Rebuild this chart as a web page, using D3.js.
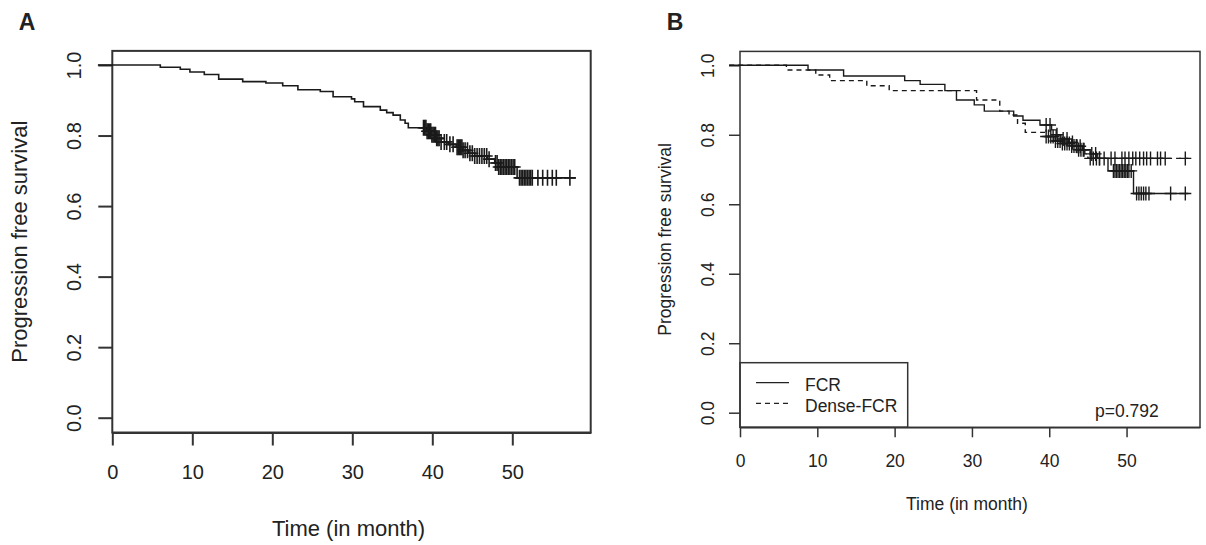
<!DOCTYPE html>
<html>
<head>
<meta charset="utf-8">
<script src="https://cdn.jsdelivr.net/npm/d3@7"></script>
<style>
    body { margin: 0; background: #fff; }
    svg { display: block; font-family: "Liberation Sans", Arial, sans-serif; }
    .box { fill: none; stroke: #333; }
    .km { fill: none; stroke: #1a1a1a; }
    .cens { stroke: #1a1a1a; }
    text { fill: #222; }
</style>
</head>
<body>
<svg id="chart" width="1206" height="545"></svg>
<script>
const monthTicks = [0, 10, 20, 30, 40, 50];
const survTicks = [0, 0.2, 0.4, 0.6, 0.8, 1.0];

// panel A - all patients (step times and survival after each step)
const allTimes = [-1.8, 6.0, 8.5, 9.7, 11.5, 13.3, 16.3, 19.2, 21.3, 23.2, 26.0, 27.6, 29.9, 30.3, 31.4,
    33.5, 34.3, 35.1, 36.0, 36.6, 37.0, 39.3, 39.9, 40.5, 41.1, 42.0, 43.0, 43.8, 44.5, 45.3, 46.9, 47.8, 48.3, 50.6];
const allSurv = [1.0, 0.9935, 0.988, 0.980, 0.973, 0.960, 0.953, 0.949, 0.941, 0.930, 0.925, 0.910, 0.904, 0.896, 0.882,
    0.872, 0.865, 0.858, 0.844, 0.835, 0.822, 0.812, 0.802, 0.792, 0.782, 0.775, 0.767, 0.758, 0.750, 0.742, 0.733, 0.722, 0.711, 0.680];
const allCensor = [38.9, 39.05, 39.2, 39.35, 39.5, 39.65, 39.8, 39.95, 40.1, 40.25, 40.4, 40.55, 40.7, 40.85,
    41.1, 41.5, 41.8, 42.2, 42.6,
    43.1, 43.25, 43.4, 43.55, 43.7, 43.85, 44.1, 44.4, 44.7,
    45.0, 45.3, 45.6, 45.9, 46.2, 46.5, 46.8, 47.1,
    47.9, 48.1, 48.3, 48.5, 48.7, 48.9, 49.1, 49.3, 49.5, 49.7, 49.9, 50.1, 50.3,
    50.9, 51.1, 51.3, 51.5, 51.7, 51.9, 52.1, 52.3, 52.5, 53.2, 53.8, 54.4, 55.0, 55.5, 57.2];
const allEnd = 57.9;

// panel B - FCR (solid) vs Dense-FCR (dashed)
const fcrTimes = [-1.4, 8.8, 13.4, 21.3, 23.3, 26.5, 28.0, 30.3, 31.6, 35.4, 36.6, 38.8, 40.3, 40.9, 41.5,
    42.5, 43.5, 44.3, 45.3, 46.2, 47.6, 50.9];
const fcrSurv = [1.0, 0.9865, 0.969, 0.956, 0.945, 0.927, 0.900, 0.886, 0.868, 0.854, 0.842, 0.828, 0.814, 0.800, 0.788,
    0.778, 0.767, 0.757, 0.745, 0.732, 0.696, 0.631];
const fcrCensor = [39.6, 40.1, 41.0, 41.8, 42.3, 43.0, 43.6, 44.0, 44.5, 45.5, 46.0, 46.5,
    48.3, 48.5, 48.7, 48.9, 49.1, 49.3, 49.5, 49.7, 49.9, 50.1, 50.3, 50.6,
    51.3, 51.6, 51.9, 52.2, 52.5, 52.9, 55.7, 57.6];
const fcrEnd = 58.0;

const denseTimes = [-1.4, 6.0, 9.8, 11.6, 16.4, 19.3, 30.6, 33.6, 34.8, 35.9, 36.9, 39.5, 40.6, 41.5, 42.8,
    43.8, 44.6, 45.0];
const denseSurv = [1.0, 0.9865, 0.972, 0.956, 0.941, 0.927, 0.900, 0.868, 0.857, 0.833, 0.807, 0.795, 0.782, 0.775, 0.768,
    0.757, 0.745, 0.732];
const denseCensor = [39.6, 39.9, 40.2, 40.5, 40.8, 41.1, 41.4, 41.7, 42.0, 42.3, 42.6, 42.9, 43.2, 43.5, 43.8, 44.1, 44.4,
    45.3, 45.7, 46.1, 46.5, 47.1, 48.0, 48.5, 49.4, 49.8, 50.3, 50.8, 51.2, 51.7, 52.2, 52.6, 53.1, 54.0, 54.4, 55.0, 57.6];
const denseEnd = 58.0;

const legendLabels = ["FCR", "Dense-FCR"];

const svg = d3.select("#chart");

// step function value at time t
function survAt(times, surv, t) {
    const i = d3.bisectRight(times, t) - 1;
    return surv[Math.max(0, i)];
}

function drawPanel(opt) {
    const x = d3.scaleLinear().domain([0, opt.xMax]).range(opt.xRange);
    const y = d3.scaleLinear().domain([0, 1]).range(opt.yRange);
    const g = svg.append("g");

    const top = y(1.04), bottom = y(-0.042);
    const left = opt.xRange[0], right = x(opt.xMax);

    g.append("rect")
        .attr("class", "box")
        .attr("x", left).attr("y", top)
        .attr("width", right - left).attr("height", bottom - top)
        .attr("stroke-width", opt.boxWidth);

    // y axis
    const yAxis = g.append("g")
        .attr("transform", `translate(${left},0)`)
        .call(d3.axisLeft(y).tickValues(survTicks).tickFormat(d3.format(".1f"))
            .tickSize(opt.tickLen).tickSizeOuter(0));
    yAxis.select(".domain").remove();
    yAxis.selectAll(".tick line").attr("stroke", "#333").attr("stroke-width", opt.boxWidth);
    yAxis.selectAll(".tick text")
        .attr("x", null).attr("dy", "0.36em")
        .attr("text-anchor", "middle")
        .attr("transform", `translate(${-opt.yLabelOff},0) rotate(-90)`)
        .attr("font-size", opt.tickFont).attr("font-family", null).attr("fill", "#222");

    // x axis
    const xAxis = g.append("g")
        .attr("transform", `translate(0,${bottom})`)
        .call(d3.axisBottom(x).tickValues(monthTicks).tickSize(opt.xTickLen).tickSizeOuter(0));
    xAxis.select(".domain").attr("stroke", "#333").attr("stroke-width", opt.boxWidth);
    xAxis.selectAll(".tick line").attr("stroke", "#333").attr("stroke-width", opt.boxWidth);
    xAxis.selectAll(".tick text")
        .attr("y", opt.xLabelOff).attr("dy", null)
        .attr("font-size", opt.tickFont).attr("font-family", null).attr("fill", "#222");

    // titles
    g.append("text")
        .attr("transform", `translate(${opt.yTitleX},${(top + bottom) / 2}) rotate(-90)`)
        .attr("text-anchor", "middle").attr("dy", "0.36em")
        .attr("font-size", opt.titleFont)
        .text("Progression free survival");
    g.append("text")
        .attr("x", (left + right) / 2 - 3).attr("y", opt.xTitleY)
        .attr("text-anchor", "middle")
        .attr("font-size", opt.titleFont)
        .text("Time (in month)");
    g.append("text")
        .attr("x", opt.letterX).attr("y", 30)
        .attr("text-anchor", "middle")
        .attr("font-size", 23).attr("font-weight", "bold")
        .attr("fill", "#000")
        .text(opt.letter);

    const line = d3.line()
        .x((d) => x(d[0]))
        .y((d) => y(d[1]))
        .curve(d3.curveStepAfter);

    opt.series.forEach((s) => {
        const pts = s.times.map((t, i) => [t, s.surv[i]]);
        pts.push([s.end, s.surv[s.surv.length - 1]]);
        g.append("path")
            .attr("class", "km")
            .attr("stroke-width", opt.lineWidth)
            .attr("d", line(pts))
            .attr("stroke-dasharray", s.dash);

        g.selectAll(null)
            .data(s.censor)
            .enter()
            .append("path")
            .attr("class", "cens")
            .attr("stroke-width", opt.lineWidth)
            .attr("d", (t) => {
                const cx = x(t), cy = y(survAt(s.times, s.surv, t));
                return `M${cx - opt.markW},${cy}H${cx + opt.markW}M${cx},${cy - opt.markH}V${cy + opt.markH}`;
            });
    });

    return { x, y, g, left, right, top, bottom };
}

drawPanel({
    letter: "A", letterX: 27,
    xMax: 59.8, xRange: [112.3, 590.7], yRange: [417.7, 65],
    boxWidth: 2, tickLen: 14, xTickLen: 13, lineWidth: 1.6,
    tickFont: 20, titleFont: 22,
    yLabelOff: 39, xLabelOff: 46, yTitleX: 19, xTitleY: 536,
    markW: 6, markH: 8,
    series: [{ times: allTimes, surv: allSurv, censor: allCensor, end: allEnd, dash: null }]
});

const pB = drawPanel({
    letter: "B", letterX: 675,
    xMax: 59.5, xRange: [740, 1200], yRange: [412.7, 65.3],
    boxWidth: 1.5, tickLen: 11, xTickLen: 10, lineWidth: 1.4,
    tickFont: 17.5, titleFont: 17.5,
    yLabelOff: 32, xLabelOff: 39.5, yTitleX: 665, xTitleY: 510,
    markW: 6, markH: 7,
    series: [
        { times: fcrTimes, surv: fcrSurv, censor: fcrCensor, end: fcrEnd, dash: null },
        { times: denseTimes, surv: denseSurv, censor: denseCensor, end: denseEnd, dash: "5,4" }
    ]
});

// legend for panel B
const leg = pB.g.append("g");
leg.append("rect")
    .attr("class", "box")
    .attr("stroke-width", 1.5)
    .attr("x", pB.left).attr("y", 362.7)
    .attr("width", 907.7 - pB.left).attr("height", pB.bottom - 362.7)
    .attr("fill", "#fff");
legendLabels.forEach((lab, i) => {
    const ly = 382.7 + i * 20.6;
    leg.append("line")
        .attr("x1", 756).attr("x2", 789)
        .attr("y1", ly).attr("y2", ly)
        .attr("stroke", "#222").attr("stroke-width", 1.3)
        .attr("stroke-dasharray", i === 1 ? "5,4" : null);
    leg.append("text")
        .attr("x", 805).attr("y", ly + 8.5)
        .attr("font-size", 17.5)
        .text(lab);
});

pB.g.append("text")
    .attr("x", 1095).attr("y", 417)
    .attr("font-size", 17.5)
    .text("p=0.792");
</script>
</body>
</html>
